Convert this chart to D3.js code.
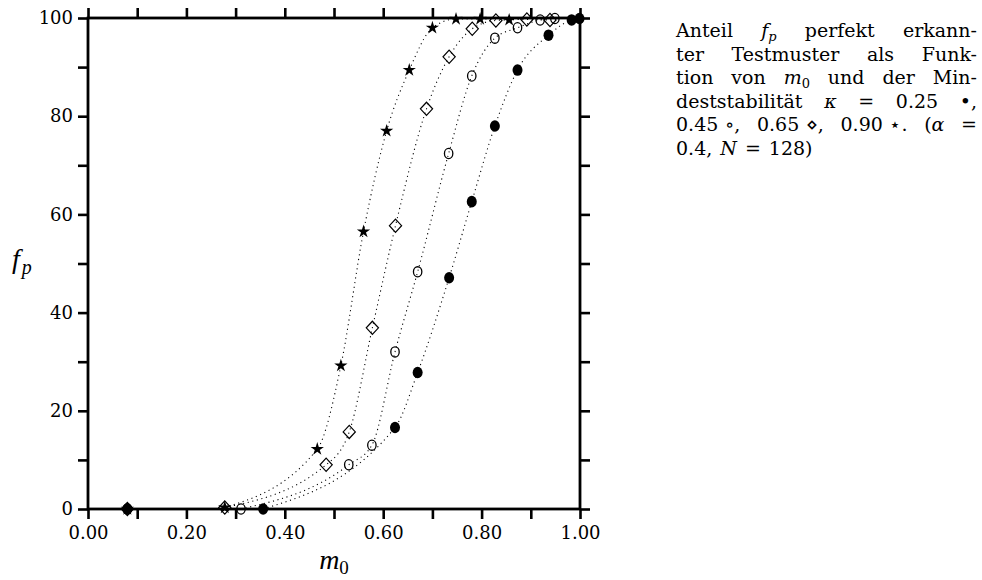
<!DOCTYPE html>
<html>
<head>
<meta charset="utf-8">
<script src="https://cdn.jsdelivr.net/npm/d3@7"></script>
<style>
  html, body { margin: 0; padding: 0; background: #fff; }
  svg { display: block; }
  text { font-family: "DejaVu Serif", "Liberation Serif", serif; fill: #000; }
</style>
</head>
<body>
<svg id="chart" width="982" height="580"></svg>
<script>
// ---------------- data ----------------
// kappa = 0.25 (filled circles)
const m_k025 = [0.08, 0.356, 0.624, 0.670, 0.734, 0.780, 0.827, 0.873, 0.936, 0.983, 0.999];
const f_k025 = [0,    0,     16.6,  27.8,  47.1,  62.6,  78.0,  89.4,  96.5,  99.6,  99.9];
// kappa = 0.45 (open circles)
const m_k045 = [0.08, 0.311, 0.530, 0.577, 0.624, 0.670, 0.733, 0.780, 0.827, 0.873, 0.919, 0.949];
const f_k045 = [0,    0,     9.0,   13.0,  32.0,  48.3,  72.4,  88.2,  95.9,  98.0,  99.6,  99.9];
// kappa = 0.65 (diamonds)
const m_k065 = [0.08, 0.278, 0.484, 0.531, 0.578, 0.625, 0.688, 0.734, 0.781, 0.829, 0.892, 0.939];
const f_k065 = [0,    0.3,   9.0,   15.7,  36.9,  57.7,  81.5,  92.1,  97.8,  99.5,  99.7,  99.6];
// kappa = 0.90 (stars)
const m_k090 = [0.08, 0.278, 0.466, 0.514, 0.560, 0.607, 0.653, 0.700, 0.748, 0.797, 0.856];
const f_k090 = [0,    0.3,   12.2,  29.2,  56.5,  77.0,  89.4,  98.0,  99.8,  99.8,  99.6];

const xTicks = [0, 0.1, 0.2, 0.3, 0.4, 0.5, 0.6, 0.7, 0.8, 0.9, 1.0];
const xTickLabels = ["0.00", "", "0.20", "", "0.40", "", "0.60", "", "0.80", "", "1.00"];
const yTicks = [0, 10, 20, 30, 40, 50, 60, 70, 80, 90, 100];
const yTickLabels = ["0", "", "20", "", "40", "", "60", "", "80", "", "100"];

// caption: lines -> words -> runs [text, kind]; kind: r roman, i italic, s subscript roman, si subscript italic
const captionLines = [
  [[["Anteil","r"]], [["f","i"],["p","si"]], [["perfekt","r"]], [["erkann-","r"]]],
  [[["ter","r"]], [["Testmuster","r"]], [["als","r"]], [["Funk-","r"]]],
  [[["tion","r"]], [["von","r"]], [["m","i"],["0","s"]], [["und","r"]], [["der","r"]], [["Min-","r"]]],
  [[["deststabilität","r"]], [["κ","i"]], [["=","r"]], [["0.25","r"]], [["•,","r"]]],
  [[["0.45","r"]], [["∘,","r"]], [["0.65","r"]], [["⋄,","r"]], [["0.90","r"]], [["⋆.","r"]], [["(","r"],["α","i"]], [["=","r"]]],
  [[["0.4,","r"]], [["N","i"]], [["=","r"]], [["128)","r"]]]
];
// words preceded by a thin (math) space instead of a full stretchable space
const captionTight = [[], [], [], [], [1, 3, 5], []];

// ---------------- layout ----------------
const svg = d3.select("#chart");
const L = 88, R = 580, T = 18, B = 509;
const x = d3.scaleLinear().domain([0, 1]).range([L, R]);
const y = d3.scaleLinear().domain([0, 100]).range([B, T]);

const series = [
  { m: m_k025, f: f_k025, shape: "filled" },
  { m: m_k045, f: f_k045, shape: "circle" },
  { m: m_k065, f: f_k065, shape: "diamond" },
  { m: m_k090, f: f_k090, shape: "star" }
].map(s => ({ ...s, pts: s.m.map((v, i) => ({ m: v, f: s.f[i] })) }));

// dotted fit curves (through the points, skipping the isolated point at m=0.08)
const line = d3.line().x(d => x(d.m)).y(d => y(d.f)).curve(d3.curveMonotoneX);
svg.append("g").selectAll("path").data(series).join("path")
  .attr("d", s => line(s.pts.slice(1)))
  .attr("fill", "none").attr("stroke", "#000")
  .attr("stroke-width", 1.1).attr("stroke-dasharray", "1.1,3.6");

// axes
const tickW = 2.6;
function styleAxis(g) {
  g.select(".domain").remove();
  g.selectAll(".tick line").attr("stroke", "#000").attr("stroke-width", tickW);
  g.selectAll(".tick text").attr("font-size", 18).attr("fill", "#000");
}
svg.append("g").attr("transform", `translate(0,${B})`)
  .call(d3.axisBottom(x).tickValues(xTicks).tickSize(10).tickPadding(7)
    .tickFormat((d, i) => xTickLabels[i]))
  .call(styleAxis)
  .call(g => g.selectAll(".tick text").attr("dy", "0.71em"));
svg.append("g").attr("transform", `translate(0,${T})`)
  .call(d3.axisTop(x).tickValues(xTicks).tickSize(10).tickFormat(() => ""))
  .call(styleAxis);
svg.append("g").attr("transform", `translate(${L},0)`)
  .call(d3.axisLeft(y).tickValues(yTicks).tickSize(10).tickPadding(5)
    .tickFormat((d, i) => yTickLabels[i]))
  .call(styleAxis);
svg.append("g").attr("transform", `translate(${R},0)`)
  .call(d3.axisRight(y).tickValues(yTicks).tickSize(10).tickFormat(() => ""))
  .call(styleAxis);

svg.append("rect").attr("x", L).attr("y", T).attr("width", R - L).attr("height", B - T)
  .attr("fill", "none").attr("stroke", "#000").attr("stroke-width", 2.8);

// markers
function starPath(r1, r2) {
  const p = [];
  for (let k = 0; k < 10; k++) {
    const r = k % 2 === 0 ? r1 : r2;
    const a = -Math.PI / 2 + k * Math.PI / 5;
    p.push([r * Math.cos(a), r * Math.sin(a)]);
  }
  return "M" + p.map(q => q[0].toFixed(2) + "," + q[1].toFixed(2)).join("L") + "Z";
}
const mk = svg.append("g");
series.forEach(s => {
  const g = mk.append("g").selectAll("g").data(s.pts).join("g")
    .attr("transform", d => `translate(${x(d.m)},${y(d.f)})`);
  if (s.shape === "filled") {
    g.append("ellipse").attr("rx", 5).attr("ry", 5.8).attr("fill", "#000");
  } else if (s.shape === "circle") {
    g.append("ellipse").attr("rx", 4.2).attr("ry", 5.1).attr("fill", "none")
      .attr("stroke", "#000").attr("stroke-width", 1.3);
  } else if (s.shape === "diamond") {
    g.append("path").attr("d", "M0,-6.6L6.1,0L0,6.6L-6.1,0Z").attr("fill", "none")
      .attr("stroke", "#000").attr("stroke-width", 1.2);
  } else {
    g.append("path").attr("d", starPath(7, 2.6)).attr("fill", "#000");
  }
});

// axis titles
const yt = svg.append("text").attr("x", 12).attr("y", 268).attr("font-size", 28)
  .style("font-family", "'Liberation Serif', serif");
yt.append("tspan").attr("font-style", "italic").text("f");
yt.append("tspan").attr("font-style", "italic").attr("font-size", 20).attr("dy", 6).attr("dx", 2).text("p");
const xt = svg.append("text").attr("x", 334).attr("y", 569).attr("font-size", 28).attr("text-anchor", "middle")
  .style("font-family", "'Liberation Serif', serif");
xt.append("tspan").attr("font-style", "italic").text("m");
xt.append("tspan").attr("font-size", 19).attr("dy", 5).text("0");

// caption (justified)
const CL = 676, CR = 977, cBase = 37, cStep = 23.5, cSize = 19;
captionLines.forEach((words, li) => {
  const by = cBase + li * cStep;
  const nodes = words.map(runs => {
    const t = svg.append("text").attr("x", 0).attr("y", by).attr("font-size", cSize);
    let shifted = 0;
    runs.forEach(([txt, kind]) => {
      const ts = t.append("tspan").text(txt);
      if (kind === "i" || kind === "si") ts.attr("font-style", "italic");
      if (kind === "s" || kind === "si") {
        ts.attr("font-size", 13).attr("dy", 4 - shifted); shifted = 4;
      } else if (shifted) { ts.attr("dy", -shifted); shifted = 0; }
    });
    return t;
  });
  const widths = nodes.map(t => t.node().getComputedTextLength());
  const total = d3.sum(widths);
  const tight = captionTight[li];
  const isLast = li === captionLines.length - 1;
  let gaps = [];
  for (let i = 1; i < words.length; i++) gaps.push(tight.includes(i) ? 0.4 : 1);
  let unit;
  if (isLast) unit = 8;
  else unit = (CR - CL - total) / d3.sum(gaps);
  let cx = CL;
  nodes.forEach((t, i) => {
    if (i > 0) cx += gaps[i - 1] * unit;
    t.attr("x", cx);
    cx += widths[i];
  });
});
</script>
</body>
</html>
